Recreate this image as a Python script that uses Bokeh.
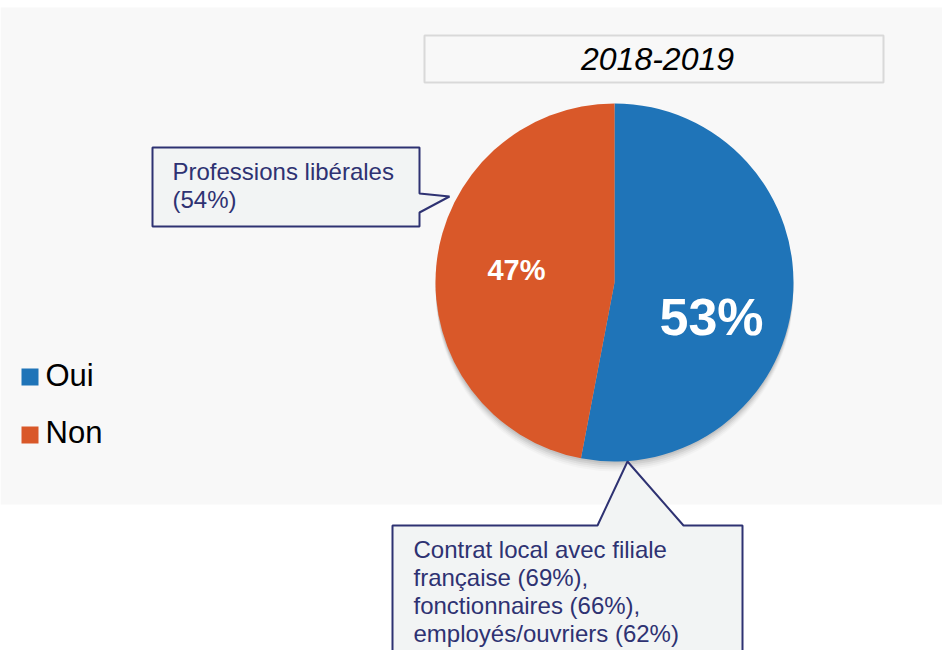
import math
from bokeh.plotting import figure
from bokeh.models import Range1d, ColumnDataSource
from bokeh.core.properties import value
from bokeh.embed import file_html
from bokeh.resources import INLINE

# ---- data ----
categories = ["Oui", "Non"]
shares = [53, 47]
colors = ["#1f74b8", "#d95829"]
period = "2018-2019"
callout_non = ["Professions libérales", "(54%)"]
callout_oui = ["Contrat local avec filiale", "française (69%),",
               "fonctionnaires (66%),", "employés/ouvriers (62%)"]

# ---- layout (reference pixel -> data coords) ----
W, H = 942, 650
def X(px): return px
def Y(py): return H - py
BL = 0.40  # empirical baseline correction (em)
def TY(py, size): return Y(py) + BL * size

FONT = value("Liberation Sans")
NAVY = "#2e3272"

p = figure(width=W, height=H, output_backend="svg", toolbar_location=None,
           x_range=Range1d(0, W), y_range=Range1d(0, H), min_border=0)
p.axis.visible = False
p.grid.visible = False
p.outline_line_color = None
p.background_fill_color = "white"
p.border_fill_color = "white"

# grey panel
p.quad(left=[X(0)], right=[X(950)], top=[Y(7)], bottom=[Y(504)],
       fill_color="#f8f8f8", line_color=None)

# title box
p.quad(left=[X(424)], right=[X(883)], top=[Y(35)], bottom=[Y(82)],
       fill_color="#f8f8f8", line_color="#d9d9d9", line_width=2)
p.text(x=[X(657)], y=[TY(71, 32)], text=[period], text_align="center",
       text_baseline="alphabetic", text_font=FONT, text_font_size="32px",
       text_font_style="italic", text_color="black")

# pie
cx, cy, R = X(614), Y(282), 179
# shadow
for off, a in [(10, 0.025), (8, 0.035), (6, 0.045), (4, 0.06), (2, 0.06)]:
    p.circle(x=[cx], y=[cy - off], radius=R, fill_color="#000000",
             fill_alpha=a, line_color=None)

total = sum(shares)
starts, ends = [], []
ang = 90.0
for s in shares:
    starts.append(math.radians(ang))
    ang -= s / total * 360
    ends.append(math.radians(ang))
src = ColumnDataSource(dict(cat=categories, share=shares, color=colors,
                            start=starts, end=ends))
p.wedge(x=cx, y=cy, radius=R, start_angle="start", end_angle="end",
        direction="clock", fill_color="color", line_color=None, source=src)

# slice labels
lab_x = [X(711), X(516)]
lab_base = [337, 281]
lab_size = [52, 29]
for i in range(len(shares)):
    p.text(x=[lab_x[i]], y=[TY(lab_base[i], lab_size[i])],
           text=[f"{shares[i]}%"],
           text_align="center", text_baseline="alphabetic", text_font=FONT,
           text_font_size=f"{lab_size[i]}px", text_font_style="bold",
           text_color="white")

# legend
sq_top = [368, 426]
txt_base = [387, 444]
for i, c in enumerate(categories):
    p.quad(left=[X(21)], right=[X(38)], top=[Y(sq_top[i])],
           bottom=[Y(sq_top[i] + 17)], fill_color=colors[i], line_color=None)
    p.text(x=[X(45)], y=[TY(txt_base[i], 31)], text=[c], text_align="left",
           text_baseline="alphabetic", text_font=FONT, text_font_size="31px",
           text_color="black")

# callout 1 (Non)
c1x = [152, 419, 419, 449, 419, 419, 152]
c1y = [147, 147, 193, 196, 212, 226, 226]
p.patch(x=[X(v) for v in c1x], y=[Y(v) for v in c1y], fill_color="#f2f4f4",
        line_color=NAVY, line_width=2)
p.text(x=[X(172)] * len(callout_non),
       y=[TY(181 + 28 * i, 24) for i in range(len(callout_non))],
       text=callout_non, text_align="left", text_baseline="alphabetic",
       text_font=FONT, text_font_size="24px", text_color=NAVY)

# callout 2 (Oui)
c2x = [392, 597, 627, 683, 742, 742, 392]
c2y = [525, 525, 461, 525, 525, 670, 670]
p.patch(x=[X(v) for v in c2x], y=[Y(v) for v in c2y], fill_color="#f2f4f4",
        line_color=NAVY, line_width=2)
p.text(x=[X(413)] * len(callout_oui),
       y=[TY(559 + 28 * i, 24) for i in range(len(callout_oui))],
       text=callout_oui, text_align="left", text_baseline="alphabetic",
       text_font=FONT, text_font_size="24px", text_color=NAVY)

open("out.html", "w").write(file_html(p, INLINE))
